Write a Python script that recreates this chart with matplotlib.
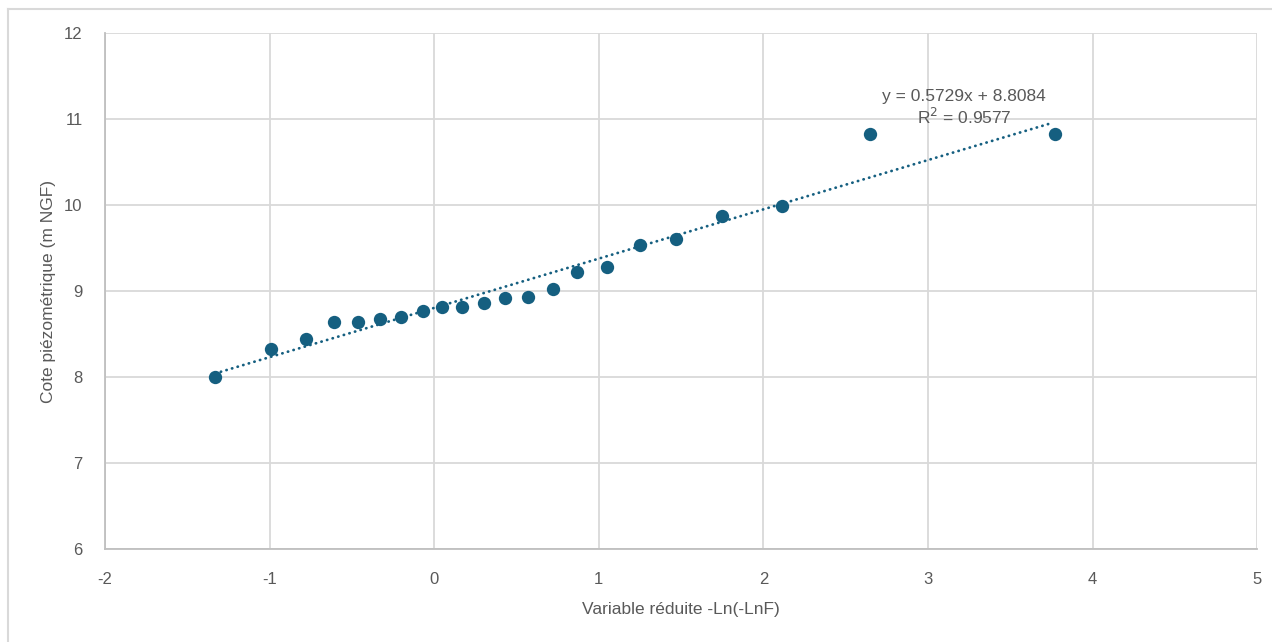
import matplotlib
matplotlib.use("Agg")
import matplotlib.pyplot as plt
from matplotlib.lines import Line2D

# reduced variable -Ln(-LnF) and piezometric level (m NGF)
x_vals = [-1.33, -0.99, -0.78, -0.61, -0.46, -0.33, -0.20, -0.07, 0.05, 0.17, 0.30,
          0.43, 0.57, 0.72, 0.87, 1.05, 1.25, 1.47, 1.75, 2.11, 2.65, 3.77]
y_vals = [8.01, 8.33, 8.445, 8.64, 8.65, 8.675, 8.70, 8.77, 8.82, 8.82, 8.865,
          8.92, 8.935, 9.03, 9.225, 9.285, 9.54, 9.61, 9.875, 9.99, 10.835, 10.835]

# trendline
slope = 0.5729
intercept = 8.8084
r2 = 0.9577

x_ticks = [-2, -1, 0, 1, 2, 3, 4, 5]
y_ticks = [6, 7, 8, 9, 10, 11, 12]

FONT = ["Liberation Sans Narrow", "Liberation Sans", "DejaVu Sans"]
plt.rcParams["font.family"] = FONT
plt.rcParams["axes.unicode_minus"] = False

DOT = "#155f80"
TXT = "#595959"
GRID = "#d9d9d9"

fig = plt.figure(figsize=(12.72, 6.42), dpi=100)
ax = fig.add_axes([0.0825, 0.1441, 0.9060, 0.8040])

# outer chart border (top and left visible)
fig.add_artist(Line2D([0.006, 1.0], [1 - 9 / 642, 1 - 9 / 642], transform=fig.transFigure,
                      color=GRID, lw=1.5))
fig.add_artist(Line2D([0.0065, 0.0065], [0.0, 1 - 9 / 642], transform=fig.transFigure,
                      color=GRID, lw=1.5))

ax.set_xlim(-2, 5)
ax.set_ylim(6, 12)
ax.set_xticks(x_ticks)
ax.set_yticks(y_ticks)
ax.grid(True, color=GRID, lw=1.3)
ax.set_axisbelow(True)
for side in ["top", "right"]:
    ax.spines[side].set_visible(False)
for side in ["left", "bottom"]:
    ax.spines[side].set_color("#bfbfbf")
    ax.spines[side].set_linewidth(1.3)
ax.tick_params(length=0, labelsize=12, labelcolor=TXT)
ax.tick_params(axis="y", pad=16)
ax.tick_params(axis="x", pad=16)

# trendline
x0, x1 = min(x_vals), 3.75
ax.plot([x0, x1], [slope * x0 + intercept, slope * x1 + intercept],
        color=DOT, lw=2.0, linestyle=(0, (0.1, 2.0)), dash_capstyle="round", zorder=2)

ax.scatter(x_vals, y_vals, s=92, color=DOT, zorder=3, linewidths=0)

ax.text(3.22, 11.27, f"y = {slope}x + {intercept}", ha="center", va="center",
        fontsize=12.5, color=TXT)
ax.text(3.22, 11.03, f"R$^2$ = {r2}", ha="center", va="center",
        fontsize=12.5, color=TXT)

ax.set_xlabel("Variable réduite -Ln(-LnF)", fontsize=12.5, color=TXT, labelpad=11)
ax.set_ylabel("Cote piézométrique (m NGF)", fontsize=12.5, color=TXT, labelpad=6)

fig.savefig("out.png", dpi=100)
